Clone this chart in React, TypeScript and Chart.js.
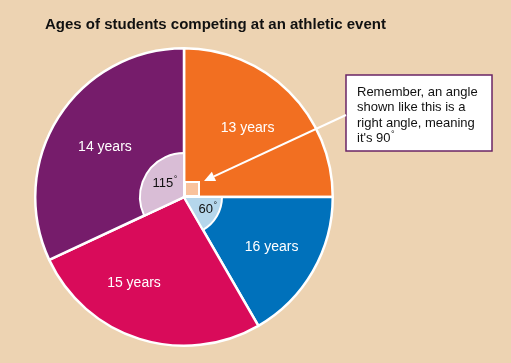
import React, { useEffect, useRef } from "react";
import { Chart, registerables } from "chart.js";

Chart.register(...registerables);

const categories = ["13 years", "16 years", "15 years", "14 years"];
const angles = [90, 60, 95, 115];
const sliceColors = ["#F26F21", "#0071BB", "#D90B5A", "#761C6B"];
const title = "Ages of students competing at an athletic event";
const noteLines = ["Remember, an angle", "shown like this is a", "right angle, meaning", "it's 90"];
const angleMarks = [
  { index: 3, text: "115", fill: "#D9BDD6", r: 44 },
  { index: 1, text: "60", fill: "#B5D6EB", r: 38 },
];

const FONT = '"Liberation Sans", Arial, Helvetica, sans-serif';

const overlayPlugin = {
  id: "overlay",
  beforeDraw(chart: any) {
    const ctx = chart.ctx;
    ctx.save();
    ctx.fillStyle = "#EDD3B2";
    ctx.fillRect(0, 0, chart.width, chart.height);
    ctx.fillStyle = "#111";
    ctx.font = `bold 15px ${FONT}`;
    ctx.textBaseline = "middle";
    ctx.textAlign = "left";
    ctx.fillText(title, 45, 25);
    ctx.restore();
  },
  afterDatasetsDraw(chart: any) {
    const ctx = chart.ctx;
    const arcs = chart.getDatasetMeta(0).data;
    const cx = arcs[0].x;
    const cy = arcs[0].y;
    const R = arcs[0].outerRadius;
    ctx.save();
    // slice labels
    ctx.fillStyle = "#fff";
    ctx.font = `14px ${FONT}`;
    ctx.textAlign = "center";
    ctx.textBaseline = "middle";
    const labelTweak = [-0.04, 0, 0.22, 0];
    const radiusTweak = [0.63, 0.68, 0.67, 0.63];
    arcs.forEach((a: any, i: number) => {
      const mid = (a.startAngle + a.endAngle) / 2 + labelTweak[i];
      const rr = R * radiusTweak[i];
      ctx.fillText(categories[i], cx + Math.cos(mid) * rr, cy + Math.sin(mid) * rr);
    });
    // angle arcs
    angleMarks.forEach((m) => {
      const a = arcs[m.index];
      ctx.beginPath();
      ctx.moveTo(cx, cy);
      ctx.arc(cx, cy, m.r, a.startAngle, a.endAngle);
      ctx.closePath();
      ctx.fillStyle = m.fill;
      ctx.fill();
      ctx.lineWidth = 2;
      ctx.strokeStyle = "#fff";
      ctx.stroke();
      const mid = (a.startAngle + a.endAngle) / 2;
      const tx = cx + Math.cos(mid) * 25;
      const ty = cy + Math.sin(mid) * 25;
      ctx.fillStyle = "#111";
      ctx.font = `13px ${FONT}`;
      ctx.textAlign = "center";
      ctx.fillText(m.text, tx, ty);
      const w = ctx.measureText(m.text).width;
      ctx.font = `9px ${FONT}`;
      ctx.textAlign = "left";
      ctx.fillText("°", tx + w / 2 + 0.5, ty - 4);
    });
    // right-angle square
    const s = 14;
    ctx.beginPath();
    ctx.rect(cx + 1, cy - s - 1, s, s);
    ctx.fillStyle = "#F9C29C";
    ctx.fill();
    ctx.lineWidth = 2;
    ctx.strokeStyle = "#fff";
    ctx.stroke();
    // note box
    const bx = 346, by = 75, bw = 146, bh = 76;
    ctx.fillStyle = "#fff";
    ctx.fillRect(bx, by, bw, bh);
    ctx.lineWidth = 1.5;
    ctx.strokeStyle = "#6A2466";
    ctx.strokeRect(bx, by, bw, bh);
    ctx.fillStyle = "#111";
    ctx.font = `13px ${FONT}`;
    ctx.textAlign = "left";
    ctx.textBaseline = "middle";
    noteLines.forEach((t, i) => {
      ctx.fillText(t, 357, 92 + i * 15.5);
    });
    const lw = ctx.measureText(noteLines[3]).width;
    ctx.font = `9px ${FONT}`;
    ctx.fillText("°", 357 + lw + 0.5, 92 + 3 * 15.5 - 4);
    // arrow
    const x1 = 346, y1 = 115, x2 = 204, y2 = 181;
    const ang = Math.atan2(y2 - y1, x2 - x1);
    const hl = 11;
    const hx = x2 - Math.cos(ang) * hl;
    const hy = y2 - Math.sin(ang) * hl;
    ctx.beginPath();
    ctx.moveTo(x1, y1);
    ctx.lineTo(hx, hy);
    ctx.strokeStyle = "#fff";
    ctx.lineWidth = 2;
    ctx.stroke();
    ctx.beginPath();
    ctx.moveTo(x2, y2);
    ctx.lineTo(hx + Math.sin(ang) * 5, hy - Math.cos(ang) * 5);
    ctx.lineTo(hx - Math.sin(ang) * 5, hy + Math.cos(ang) * 5);
    ctx.closePath();
    ctx.fillStyle = "#fff";
    ctx.fill();
    ctx.restore();
  },
};

export default function App() {
  const ref = useRef<HTMLCanvasElement>(null);
  useEffect(() => {
    const chart = new Chart(ref.current!, {
      type: "pie",
      data: {
        labels: categories,
        datasets: [
          {
            data: angles,
            backgroundColor: sliceColors,
            borderColor: "#fff",
            borderWidth: 2.5,
          },
        ],
      },
      options: {
        responsive: false,
        animation: false,
        layout: { padding: { left: 34, right: 177, top: 47, bottom: 16 } },
        plugins: { legend: { display: false }, tooltip: { enabled: false }, title: { display: false } },
      },
      plugins: [overlayPlugin],
    });
    return () => chart.destroy();
  }, []);
  return (
    <div style={{ position: "absolute", left: 0, top: 0, width: 511, height: 363 }}>
      <canvas ref={ref} width={511} height={363} style={{ display: "block" }} />
    </div>
  );
}
